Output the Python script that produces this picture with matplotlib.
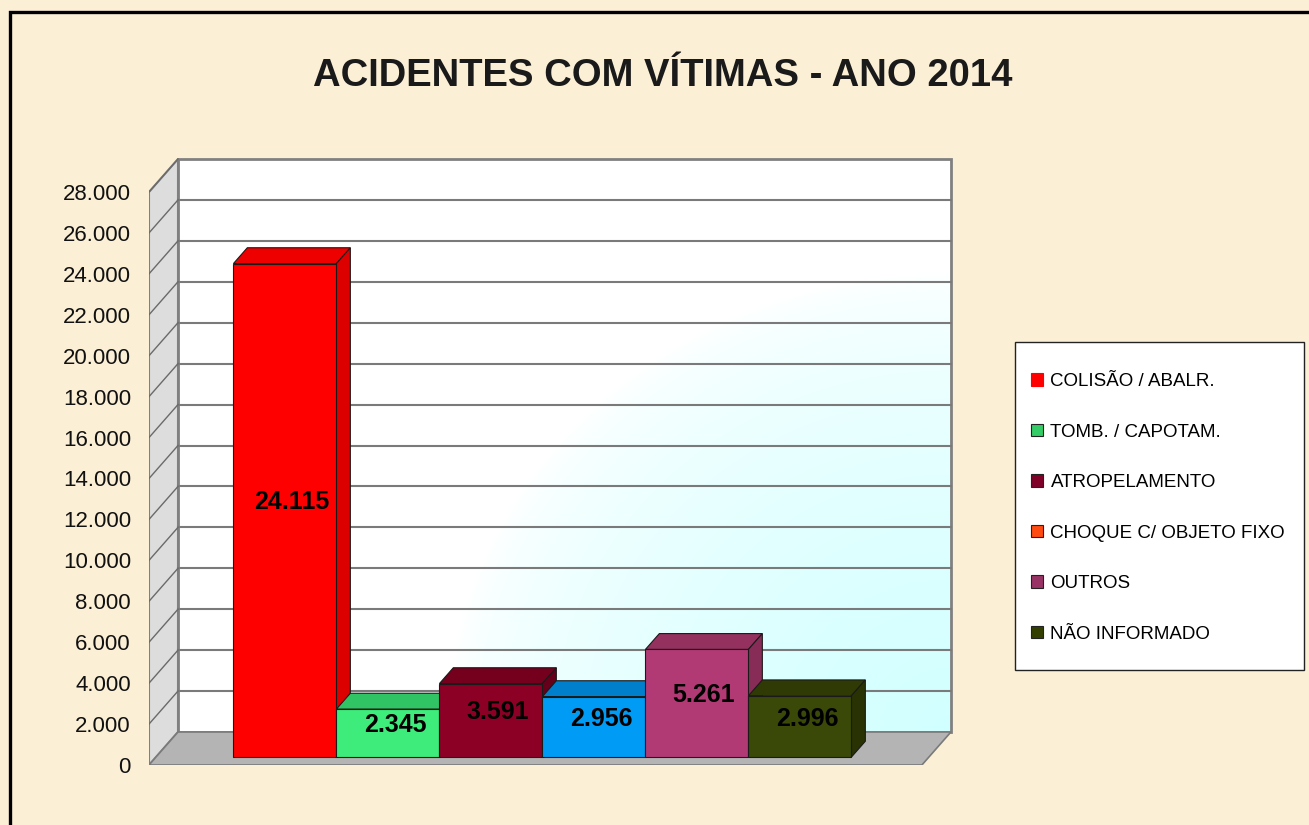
import numpy as np
import matplotlib
matplotlib.use("Agg")
import matplotlib.pyplot as plt
from matplotlib.patches import Polygon, Rectangle, Patch

plt.rcParams["font.family"] = ["Liberation Sans", "DejaVu Sans"]

# data
title = "ACIDENTES COM VÍTIMAS - ANO 2014"
categories = ["COLISÃO / ABALR.", "TOMB. / CAPOTAM.", "ATROPELAMENTO",
              "CHOQUE C/ OBJETO FIXO", "OUTROS", "NÃO INFORMADO"]
values = [24115, 2345, 3591, 2956, 5261, 2996]
value_labels = ["24.115", "2.345", "3.591", "2.956", "5.261", "2.996"]
yticks = list(range(0, 28001, 2000))

# colours (front, top, side) - the 4th bar is blue in the chart but orange in the legend
front_cols = ["#FF0000", "#3DEC7A", "#8C0026", "#009BF5", "#B13A74", "#3A4808"]
top_cols = ["#EE0000", "#30C464", "#74001E", "#0080CC", "#95315F", "#2F3A04"]
side_cols = ["#DD0000", "#2BB05A", "#66001A", "#0070B4", "#872C57", "#283203"]
legend_cols = ["#FF0000", "#33CC66", "#800028", "#FF4A10", "#993366", "#333F00"]

W, H = 1309, 825
fig = plt.figure(figsize=(W / 100, H / 100), dpi=100)
fig.patch.set_facecolor("#FBEFD6")

# pixel scale of the fake 3d chart
PX_X = 103.0          # px per bar
PX_Y = 573 / 28000    # px per unit
X0, X1 = -0.752, 6.752
DX = 29 / PX_X        # full depth offset
DY = 33 / PX_Y
ZB0, ZB1 = 0.24, 0.72  # bar depth range

ax_left, ax_bottom = 149, 765   # pixel pos of front-plane origin (from top)
ax_w, ax_h = 820, 620
ax = fig.add_axes([ax_left / W, (H - ax_bottom) / H, ax_w / W, ax_h / H])
ax.set_xlim(X0, X0 + ax_w / PX_X)
ax.set_ylim(0, ax_h / PX_Y)
ax.patch.set_visible(False)
for s in ax.spines.values():
    s.set_visible(False)


def P(x, y, z):
    return (x + z * DX, y + z * DY)


ytop = yticks[-1]

# back wall with gradient
nu, nw = 200, 150
u = np.linspace(0, 1, nu)[None, :]
w = np.linspace(1, 0, nw)[:, None]
r = np.sqrt(((1 - u) / 0.65) ** 2 + (w / 0.8) ** 2)
t = np.clip(1 - r, 0, 1) ** 0.6
cyan = np.array([0.82, 1.0, 1.0])
img = (1 - t[..., None]) * np.ones(3) + t[..., None] * cyan
ax.imshow(img, extent=[X0 + DX, X1 + DX, DY, ytop + DY], aspect="auto", zorder=0.5,
          interpolation="bilinear")
ax.add_patch(Rectangle(P(X0, 0, 1), X1 - X0, ytop, fill=False, ec="#808080", lw=2, zorder=1))

# left wall
ax.add_patch(Polygon([P(X0, 0, 0), P(X0, 0, 1), P(X0, ytop, 1), P(X0, ytop, 0)],
                     closed=True, fc="#DDDDDD", ec="#808080", lw=1.5, zorder=1))

# floor
ax.add_patch(Polygon([P(X0, 0, 0), P(X1, 0, 0), P(X1, 0, 1), P(X0, 0, 1)],
                     closed=True, fc="#B4B4B4", ec="#7A7A7A", lw=1.2, zorder=1.2))

# gridlines
for yv in yticks[1:-1]:
    a, b = P(X0, yv, 1), P(X1, yv, 1)
    ax.plot([a[0], b[0]], [a[1], b[1]], color="#7A7A7A", lw=1.5, zorder=1.1)
for yv in yticks[1:]:
    a, b = P(X0, yv, 0), P(X0, yv, 1)
    ax.plot([a[0], b[0]], [a[1], b[1]], color="#6A6A6A", lw=1, zorder=1.1)

# bars
xs = np.arange(len(values))
bars = ax.bar(xs + ZB0 * DX, values, width=1, bottom=ZB0 * DY, align="edge",
              color=front_cols, edgecolor="#1A1A1A", lw=0.8)
for i, (v, b) in enumerate(zip(values, bars)):
    zo = 3 + i
    b.set_zorder(zo + 0.2)
    ax.add_patch(Polygon([P(i, v, ZB0), P(i + 1, v, ZB0), P(i + 1, v, ZB1), P(i, v, ZB1)],
                         closed=True, fc=top_cols[i], ec="#1A1A1A", lw=0.8, zorder=zo))
    ax.add_patch(Polygon([P(i + 1, 0, ZB0), P(i + 1, v, ZB0), P(i + 1, v, ZB1), P(i + 1, 0, ZB1)],
                         closed=True, fc=side_cols[i], ec="#1A1A1A", lw=0.8, zorder=zo))

zm = (ZB0 + ZB1) / 2
for i, v in enumerate(values):
    px, py = P(i + 0.5, v / 2, zm)
    ax.text(px, py, value_labels[i], ha="center", va="center", fontsize=18,
            fontweight="bold", color="black", zorder=20)

# y axis labels
ax.set_xticks([])
ax.set_yticks(yticks)
ax.set_yticklabels([f"{v:,}".replace(",", ".") for v in yticks], fontsize=16, color="#111111")
ax.tick_params(axis="y", length=0, pad=13)

# title
fig.text(663 / W, 1 - 86 / H, title, ha="center", va="baseline", fontsize=27.5,
         fontweight="bold", color="#1A1A1A")

# legend
fig.patches.append(Rectangle((1015 / W, 1 - 670 / H), (1304 - 1015) / W, (670 - 342) / H,
                             transform=fig.transFigure, fc="white", ec="#222222", lw=1, zorder=1))
handles = [Patch(facecolor=c, edgecolor=("#FF0000" if i == 0 else "#222222"), lw=0.8)
           for i, c in enumerate(legend_cols)]
fig.legend(handles, categories, loc="upper left", bbox_to_anchor=(1031 / W, 1 - 373 / H),
           frameon=False, fontsize=13.5, handlelength=0.64, handleheight=0.64,
           handletextpad=0.4, labelspacing=1.79, borderpad=0, borderaxespad=0)

# outer frame
fig.patches.append(Rectangle((10 / W, -0.1), 1.2, 1.1 - 12 / H, transform=fig.transFigure,
                             fill=False, ec="black", lw=2.4, zorder=0.5))

fig.savefig("out.png", dpi=100, facecolor=fig.get_facecolor())
